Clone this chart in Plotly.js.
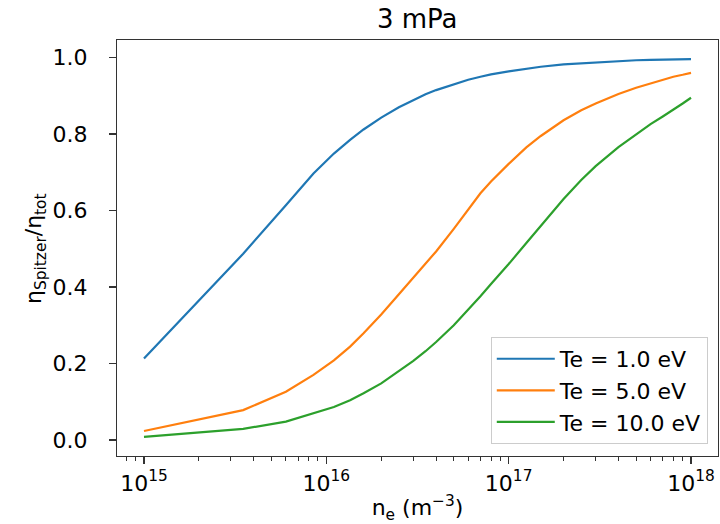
<!DOCTYPE html>
<html>
<head>
<meta charset="utf-8">
<script src="https://cdn.plot.ly/plotly-3.0.1.min.js"></script>
<style>html,body{margin:0;padding:0;background:#fff;}#chart{width:720px;height:524px;}</style>
</head>
<body>
<div id="chart"></div>
<script>
// electron density n_e (m^-3)
const ne = [1e15, 3.5e15, 6e15, 8.5e15, 1.1e16, 1.35e16, 1.6e16, 2e16, 2.5e16, 3e16, 3.5e16,
            4e16, 5e16, 6e16, 7e16, 8e16, 1e17, 1.25e17, 1.5e17, 2e17, 2.5e17, 3e17,
            4e17, 5e17, 6e17, 7e17, 8e17, 9e17, 1e18];
// eta_Spitzer / eta_tot
const te1 = [0.213, 0.487, 0.614, 0.697, 0.749, 0.785, 0.812, 0.843, 0.870, 0.889, 0.904,
             0.915, 0.931, 0.942, 0.950, 0.956, 0.964, 0.971, 0.976, 0.982, 0.985, 0.988,
             0.991, 0.993, 0.994, 0.995, 0.995, 0.996, 0.996];
const te5 = [0.0235, 0.078, 0.126, 0.170, 0.208, 0.244, 0.279, 0.328, 0.381, 0.424, 0.461,
             0.493, 0.552, 0.603, 0.645, 0.676, 0.722, 0.765, 0.795, 0.836, 0.862, 0.880,
             0.905, 0.921, 0.933, 0.942, 0.950, 0.955, 0.960];
const te10 = [0.0078, 0.029, 0.048, 0.070, 0.086, 0.104, 0.122, 0.148, 0.180, 0.207, 0.232,
              0.256, 0.300, 0.340, 0.376, 0.408, 0.460, 0.515, 0.560, 0.630, 0.680, 0.716,
              0.766, 0.800, 0.826, 0.846, 0.863, 0.880, 0.895];
const seriesNames = ['Te = 1.0 eV', 'Te = 5.0 eV', 'Te = 10.0 eV'];
const seriesColors = ['#1f77b4', '#ff7f0e', '#2ca02c'];
const xTickVals = [1e15, 1e16, 1e17, 1e18];
const xTickText = ['10<sup>15</sup>', '10<sup>16</sup>', '10<sup>17</sup>', '10<sup>18</sup>'];
const yTickVals = [0.0, 0.2, 0.4, 0.6, 0.8, 1.0];

const font = 'DejaVu Sans, sans-serif';
const ys = [te1, te5, te10];
const traces = ys.map((y, i) => ({
  x: ne, y: y, type: 'scatter', mode: 'lines', name: seriesNames[i],
  legendgroup: 'g' + i,
  line: {color: seriesColors[i], width: 2.2, shape: 'linear'}
}));
// empty helper trace so the label-only y axis is drawn
traces.push({x: [], y: [], type: 'scatter', mode: 'lines', xaxis: 'x', yaxis: 'y2',
             showlegend: false, hoverinfo: 'skip'});

const axisCommon = {
  showgrid: false, zeroline: false, showline: true, mirror: true,
  linecolor: '#333', linewidth: 1.2,
  ticks: 'outside', ticklen: 7, tickwidth: 1.2, tickcolor: '#333',
  tickfont: {family: font, size: 22, color: '#000'}
};
const yRange = [-0.042, 1.046];

const layout = {
  width: 720, height: 524,
  margin: {l: 117, r: 2, t: 40, b: 68},
  paper_bgcolor: '#fff', plot_bgcolor: '#fff',
  font: {family: font, color: '#000'},
  title: {text: '3 mPa', font: {family: font, size: 26, color: '#000'},
          x: 0.5795, xanchor: 'center', y: 0.946, yanchor: 'bottom'},
  xaxis: Object.assign({}, axisCommon, {
    type: 'log', range: [14.852, 18.148],
    tickmode: 'array', tickvals: xTickVals, ticktext: xTickText,
    minor: {ticks: 'outside', ticklen: 4, tickwidth: 1, tickcolor: '#333', dtick: 'D1', showgrid: false},
    title: {text: 'n<sub>e</sub> (m<sup>−3</sup>)', font: {family: font, size: 22, color: '#000'}, standoff: 6}
  }),
  yaxis: Object.assign({}, axisCommon, {
    range: yRange,
    tickmode: 'array', tickvals: yTickVals, showticklabels: false
  }),
  // label-only axis so the tick labels sit further from the frame, as in the original
  yaxis2: {
    overlaying: 'y', side: 'left', range: yRange,
    showgrid: false, zeroline: false, showline: false,
    tickmode: 'array', tickvals: yTickVals, tickformat: '.1f',
    ticks: 'outside', ticklen: 24, tickcolor: 'rgba(0,0,0,0)',
    tickfont: {family: font, size: 22, color: '#000'}
  },
  annotations: [{
    text: 'η<sub>Spitzer</sub>/η<sub>tot</sub>', xref: 'paper', yref: 'paper',
    x: -0.1365, y: 0.5, xanchor: 'center', yanchor: 'middle', textangle: -90,
    showarrow: false, font: {family: font, size: 22, color: '#000'}
  }],
  legend: {
    x: 0.983, xanchor: 'right', y: 0.029, yanchor: 'bottom',
    bgcolor: 'rgba(255,255,255,0.8)', bordercolor: '#ccc', borderwidth: 1,
    font: {family: font, size: 22, color: '#000'},
    traceorder: 'grouped', tracegroupgap: 0, itemwidth: 58
  },
  showlegend: true
};

Plotly.newPlot('chart', traces, layout, {displayModeBar: false, staticPlot: true});
</script>
</body>
</html>
